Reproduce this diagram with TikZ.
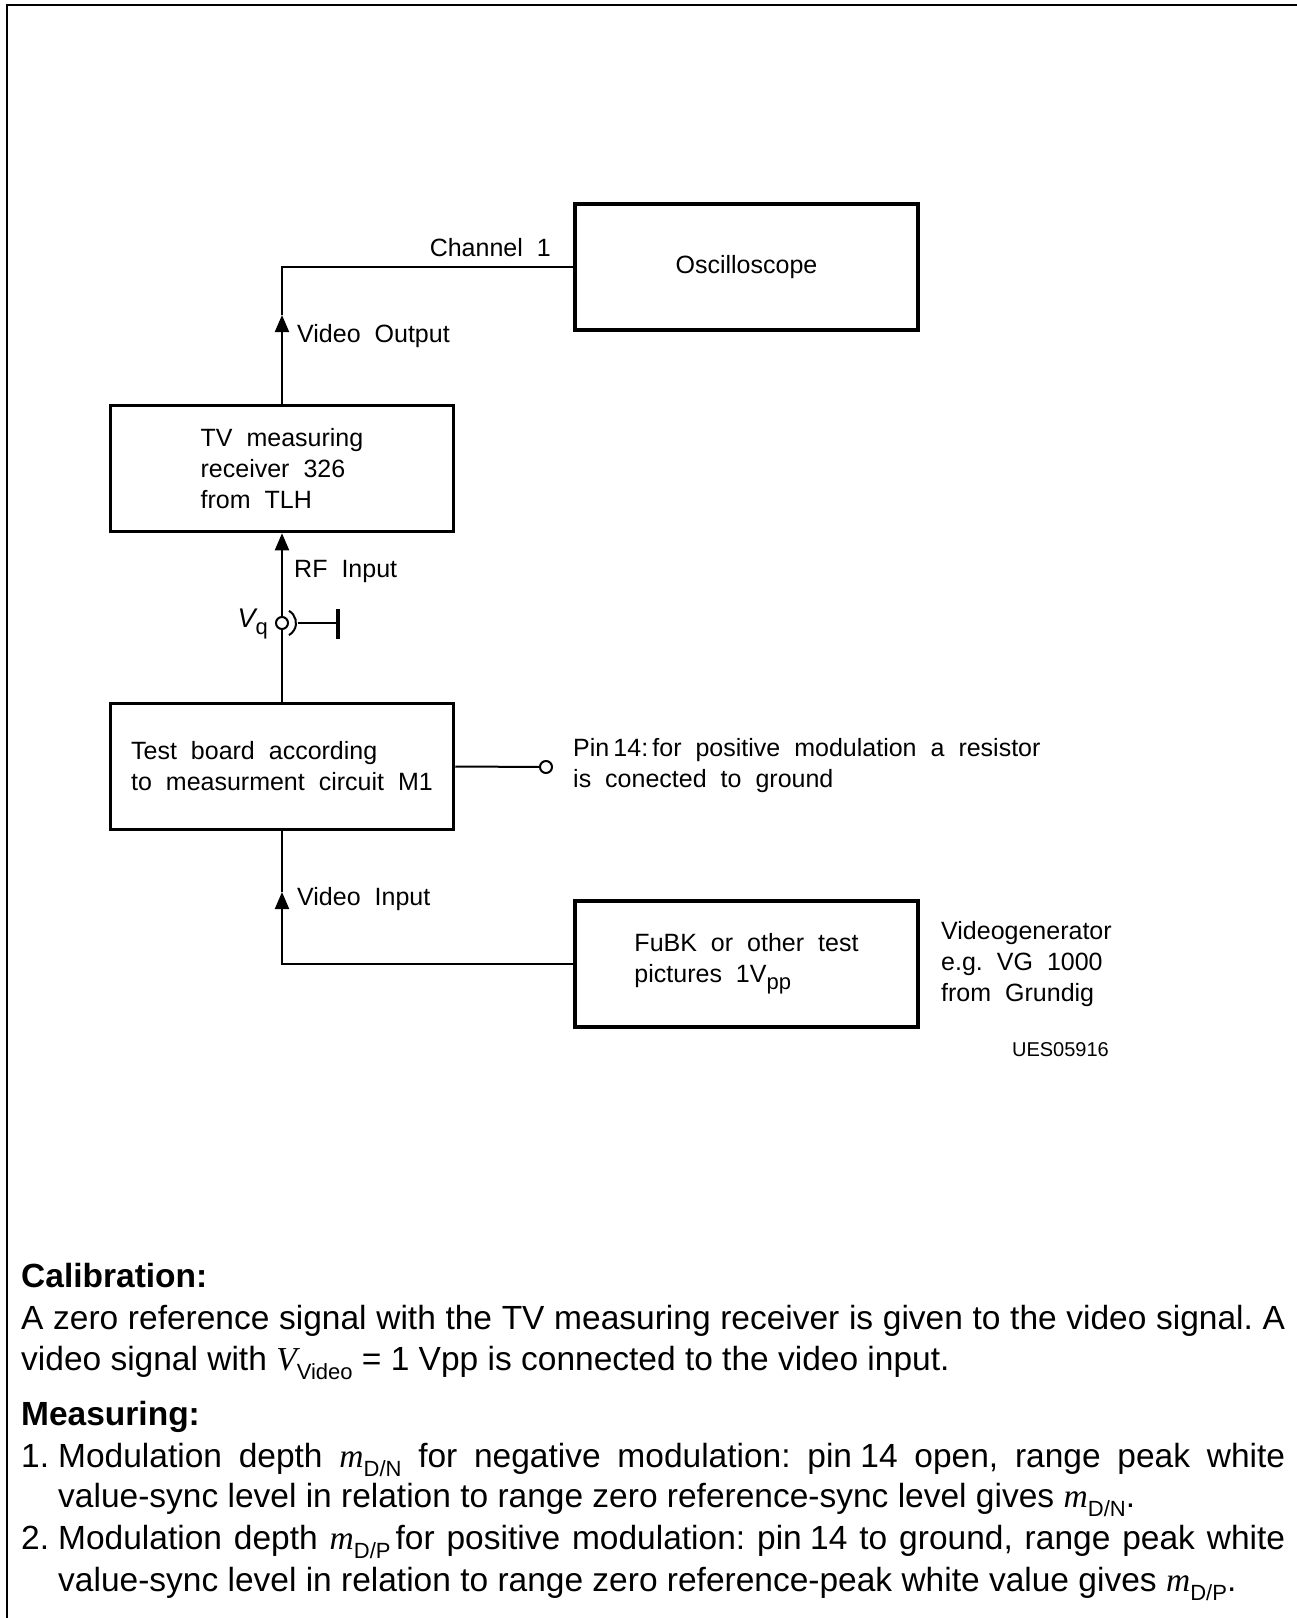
\documentclass[tikz,border=0pt]{standalone}
\usepackage{fontspec}
\setmainfont{Liberation Sans}
\newfontfamily\serifit{Liberation Serif}
\usetikzlibrary{arrows.meta}
\frenchspacing

\newcommand{\mvar}[1]{{\serifit\itshape #1}}
\newcommand{\lowsub}[1]{\raisebox{-0.28em}{\fontsize{22}{22}\selectfont #1}}
\newcommand{\cadfont}{\fontsize{25}{31}\selectfont\spaceskip=0.56em\relax}

\tikzset{
	block/.style={draw, line width=3.5pt, minimum width=343pt, minimum height=126pt,
		inner sep=0pt, align=left, font=\cadfont},
	lbl/.style={inner sep=0pt, align=left, font=\cadfont},
	wire/.style={line width=2pt},
	flow/.style={wire, -{Triangle[length=17pt, width=14pt]}},
	body/.style={anchor=base west, inner sep=0pt, font=\fontsize{33.5}{41}\selectfont},
	bodyhead/.style={body, font=\bfseries\fontsize{33.5}{41}\selectfont},
}

\begin{document}
\begin{tikzpicture}[x=1pt, y=-1pt]
	\useasboundingbox (0,0) rectangle (1297,1618);
	\draw[line width=2pt] (7,1618) -- (7,5) -- (1297,5);

	% blocks
	\node[block] (osc)   at (746.5,267) {Oscilloscope};
	\node[block] (tv)    at (282,468.5) {TV measuring\\receiver 326\\from TLH};
	\node[block] (board) at (282,766.5) {Test board according\\to measurment circuit M1};
	\node[block] (fubk)  at (746.5,964) {FuBK or other test\\pictures 1V\lowsub{pp}};

	\coordinate (vout) at (282,315);
	\coordinate (vin)  at (282,892);
	\coordinate (gnd)  at (338,623);
	\node[draw, circle, wire, fill=white, minimum size=12pt, inner sep=0pt] (vq) at (282,623) {};
	\node[draw, circle, wire, fill=white, minimum size=12pt, inner sep=0pt] (pin) at (546,767) {};

	% connections
	\draw[flow] (tv.north) -- (vout);
	\draw[wire] (vout) |- (osc.west);
	\draw[wire] (board.north) -- (vq);
	\draw[flow] (vq) -- (tv.south);
	\draw[flow] (fubk.west) -| (vin);
	\draw[wire] (vin) -- (board.south);
	\draw[wire] (board.east) -- (pin);

	% coax socket to ground
	\draw[wire] (vq.center) ++(-60:14) arc[start angle=-60, end angle=60, radius=14];
	\draw[wire] (vq.center) ++(16,0) -- (gnd);
	\draw[line width=4pt] (gnd) ++(0,-14) -- ++(0,30);

	% labels
	\node[lbl, anchor=east] (ch1)   at (551,248) {Channel 1};
	\node[lbl, anchor=west] (vouttxt) at (297,336) {Video Output};
	\node[lbl, anchor=west] (rftxt) at (294,571) {RF Input};
	\node[lbl, anchor=east, font=\fontsize{27}{31}\selectfont] (vqtxt) at (268,624) {\itshape V\lowsub{\upshape q}};
	\node[lbl, anchor=west] (vintxt) at (297,899) {Video Input};
	\node[lbl, anchor=west] (pintxt) at (573,766) {Pin\,14:\,for positive modulation a resistor\\is conected to ground};
	\node[lbl, anchor=west] (gentxt) at (941,964) {Videogenerator\\e.g. VG 1000\\from Grundig};
	\node[lbl, anchor=east, font=\fontsize{20}{24}\selectfont] (code) at (1109,1050) {UES05916};

	% notes
	\node[bodyhead] (calhead) at (21,1287) {Calibration:};
	\node[body] (cal1) at (21,1329)
		{\makebox[1264pt][s]{A zero reference signal with the TV measuring receiver is given to the video signal. A}};
	\node[body] (cal2) at (21,1370)
		{video signal with \mvar{V}\lowsub{Video} = 1 Vpp is connected to the video input.};
	\node[bodyhead] (meashead) at (21,1425) {Measuring:};
	\node[body] (item1a) at (21,1467)
		{\makebox[37pt][l]{1.}\makebox[1227pt][s]{Modulation depth \mvar{m}\lowsub{D/N} for negative modulation: pin\hspace{0.25em}14 open, range peak white}};
	\node[body] (item1b) at (58,1507)
		{value-sync level in relation to range zero reference-sync level gives \mvar{m}\lowsub{D/N}.};
	\node[body] (item2a) at (21,1549)
		{\makebox[37pt][l]{2.}\makebox[1227pt][s]{Modulation depth \mvar{m}\lowsub{D/P}\hspace{0.15em}for positive modulation: pin\hspace{0.25em}14 to ground, range peak white}};
	\node[body] (item2b) at (58,1591)
		{value-sync level in relation to range zero reference-peak white value gives \mvar{m}\lowsub{D/P}.};
\end{tikzpicture}
\end{document}
